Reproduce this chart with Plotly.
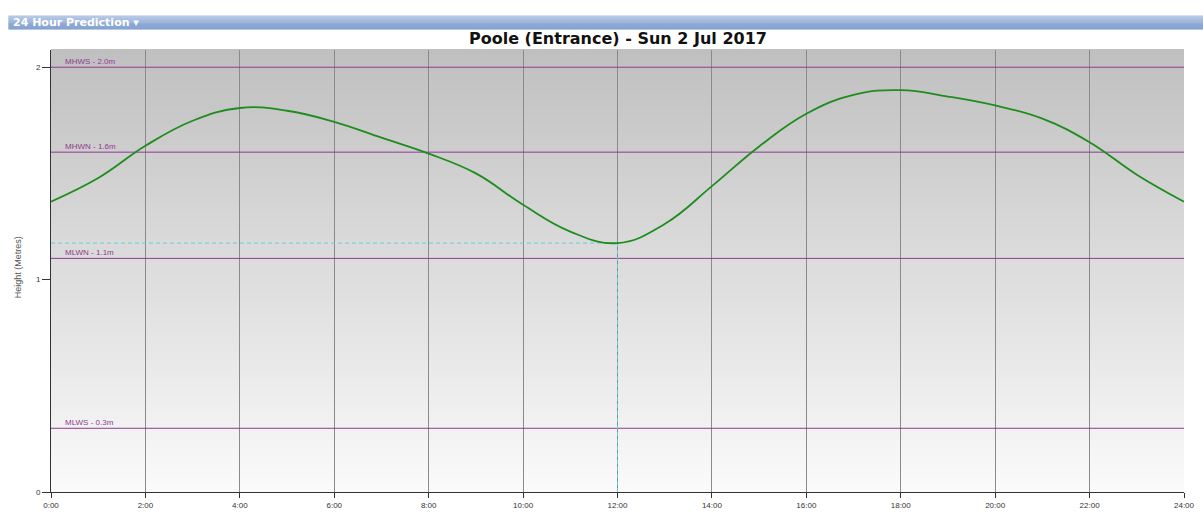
import plotly.graph_objects as go

# Tide prediction data (hours, metres)
hours = [0, 1, 2, 3, 4, 5, 6, 7, 8, 9, 10, 11, 12, 13, 14, 15, 16, 17, 18, 19, 20, 21, 22, 23, 24]
heights = [1.367, 1.478, 1.630, 1.748, 1.808, 1.795, 1.743, 1.668, 1.593, 1.500, 1.352, 1.226, 1.172,
           1.262, 1.440, 1.627, 1.781, 1.870, 1.892, 1.862, 1.820, 1.758, 1.647, 1.494, 1.367]

level_names = ["MHWS - 2.0m", "MHWN - 1.6m", "MLWN - 1.1m", "MLWS - 0.3m"]
level_values = [2.0, 1.6, 1.1, 0.3]

tick_hours = [0, 2, 4, 6, 8, 10, 12, 14, 16, 18, 20, 22, 24]
tick_labels = ["0:00", "2:00", "4:00", "6:00", "8:00", "10:00", "12:00", "14:00", "16:00", "18:00", "20:00", "22:00", "24:00"]
y_ticks = [0, 1, 2]

cursor_hour = 12
cursor_height = 1.172

title_text = "Poole (Entrance) - Sun 2 Jul 2017"
header_text = "24 Hour Prediction \u25be"

W, H = 1203, 518
ML, MR, MT, MB = 51, 8, 50, 20
plot_w = W - ML - MR
plot_h = H - MT - MB

def px_x(p):
    return (p - ML) / plot_w

def px_y(p):
    return (H - MB - p) / plot_h

FONT = "Liberation Sans, Arial, sans-serif"
WIDE = "DejaVu Sans, Verdana, sans-serif"

fig = go.Figure()

# Level lines
for name, val in zip(level_names, level_values):
    fig.add_trace(go.Scatter(x=[0, 24], y=[val, val], mode="lines",
                             line=dict(color="#8e3a92", width=1), hoverinfo="skip", showlegend=False))
    fig.add_annotation(x=0.25, y=val, xref="x", yref="y", text=name, showarrow=False,
                       xanchor="left", yanchor="bottom", yshift=-1,
                       font=dict(family=FONT, size=8, color="#8e3a92"))

# Cursor crosshair
fig.add_trace(go.Scatter(x=[0, cursor_hour], y=[cursor_height, cursor_height], mode="lines",
                         line=dict(color="#5cd0d8", width=1, dash="4px,3px"), hoverinfo="skip", showlegend=False))
fig.add_trace(go.Scatter(x=[cursor_hour, cursor_hour], y=[cursor_height, 0], mode="lines",
                         line=dict(color="#5cd0d8", width=1, dash="4px,3px"), hoverinfo="skip", showlegend=False))

# Tide curve
fig.add_trace(go.Scatter(x=hours, y=heights, mode="lines",
                         line=dict(color="#1e8c1e", width=1.8, shape="spline", smoothing=1.2),
                         showlegend=False))

shapes = []
# background gradient (gray top to white bottom)
n = 60
top_c = (192, 192, 192)
bot_c = (250, 250, 250)
for i in range(n):
    mid = (i + 0.5) / n
    c = tuple(int(round(bot_c[k] + (top_c[k] - bot_c[k]) * mid)) for k in range(3))
    shapes.append(dict(type="rect", xref="x domain", yref="y domain", x0=0, x1=1,
                       y0=i / n, y1=(i + 1) / n + 0.002, fillcolor="rgb(%d,%d,%d)" % c,
                       line=dict(width=0), layer="below"))

# header bar gradient
hb_top, hb_bot = 15, 29
nb = 14
c1 = (176, 196, 228)
c2 = (112, 146, 200)
for i in range(nb):
    y0p = hb_top + (hb_bot - hb_top) * i / nb
    y1p = hb_top + (hb_bot - hb_top) * (i + 1) / nb + 0.3
    m = (i + 0.5) / nb
    c = tuple(int(round(c1[k] + (c2[k] - c1[k]) * m)) for k in range(3))
    shapes.append(dict(type="rect", xref="paper", yref="paper", x0=px_x(8), x1=px_x(1215),
                       y0=px_y(y1p), y1=px_y(y0p), fillcolor="rgb(%d,%d,%d)" % c,
                       line=dict(width=0), layer="below"))

fig.add_annotation(xref="paper", yref="paper", x=px_x(11), y=px_y(22), text="<b>%s</b>" % header_text,
                   showarrow=False, xanchor="left", yanchor="middle",
                   font=dict(family=WIDE, size=11, color="white"))

fig.add_annotation(xref="paper", yref="paper", x=px_x(623), y=px_y(38.5), text="<b>%s</b>" % title_text,
                   showarrow=False, xanchor="center", yanchor="middle",
                   font=dict(family=WIDE, size=16, color="#111111"))

fig.add_annotation(xref="paper", yref="paper", x=px_x(18), y=px_y(270), text="Height (Metres)",
                   showarrow=False, textangle=-90, xanchor="center", yanchor="middle",
                   font=dict(family=FONT, size=9, color="#555555"))

fig.update_layout(
    width=W, height=H,
    margin=dict(l=ML, r=MR, t=MT, b=MB, pad=0),
    paper_bgcolor="white",
    plot_bgcolor="rgba(0,0,0,0)",
    shapes=shapes,
    font=dict(family=FONT, size=8, color="#333333"),
    xaxis=dict(range=[0, 24], tickvals=tick_hours, ticktext=tick_labels,
               showgrid=True, gridcolor="#8a8a8a", gridwidth=1,
               showline=True, linecolor="#333333", linewidth=1,
               ticks="outside", ticklen=5, tickcolor="#333333", ticklabeloverflow="allow",
               tickfont=dict(family=FONT, size=8, color="#333333"), zeroline=False, fixedrange=True),
    yaxis=dict(range=[0, 2.081], tickvals=y_ticks, ticktext=[str(v) for v in y_ticks],
               showgrid=False, showline=True, linecolor="#333333", linewidth=1,
               ticks="outside", ticklen=8, tickcolor="#333333",
               tickfont=dict(family=FONT, size=8, color="#333333"), zeroline=False, fixedrange=True),
)

# remove the browser's default 8px body margin so the figure fills the window exactly
fig.write_html("out.html", config={"displayModeBar": False},
               post_script="document.body.style.margin='0px';document.body.style.overflow='hidden';")
